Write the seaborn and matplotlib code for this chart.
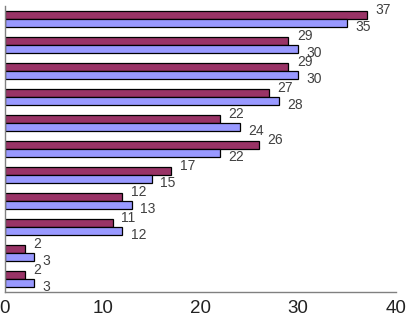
import matplotlib
matplotlib.use("Agg")
import matplotlib.pyplot as plt
import seaborn as sns
import pandas as pd

categories = ["C1", "C2", "C3", "C4", "C5", "C6", "C7", "C8", "C9", "C10", "C11"]
series_a = [37, 29, 29, 27, 22, 26, 17, 12, 11, 2, 2]
series_b = [35, 30, 30, 28, 24, 22, 15, 13, 12, 3, 3]
x_ticks = [0, 10, 20, 30, 40]

df = pd.DataFrame({
    "cat": categories * 2,
    "val": series_a + series_b,
    "series": ["A"] * len(categories) + ["B"] * len(categories),
})

sns.set_style("white")
plt.rcParams["font.family"] = ["Liberation Sans", "DejaVu Sans"]

fig = plt.figure(figsize=(4.07, 3.2), dpi=100)
ax = fig.add_axes([5 / 407, 28 / 320, 391 / 407, 286 / 320])

sns.barplot(data=df, y="cat", x="val", hue="series", orient="h",
            palette=["#993366", "#9999FF"], width=0.6, dodge=True, saturation=1,
            edgecolor="black", linewidth=0.9, legend=False, ax=ax, errorbar=None)

label_color = "#404040"
for container, dy in zip(ax.containers, [3.5, -3.0]):
    for bar in container:
        w = bar.get_width()
        yc = bar.get_y() + bar.get_height() / 2
        ax.annotate(f"{int(round(w))}", xy=(w, yc), xytext=(6, dy),
                    textcoords="offset points", ha="left", va="center",
                    fontsize=10, color=label_color, annotation_clip=False)

ax.set_xlim(0, 40)
ax.set_ylim(len(categories) - 0.5, -0.5)
ax.set_xticks(x_ticks)
ax.set_xticklabels([str(t) for t in x_ticks], fontsize=13.5, color="#222222")
ax.set_yticks([i - 0.5 for i in range(len(categories) + 1)])
ax.set_yticklabels([])
ax.set_xlabel("")
ax.set_ylabel("")

for s in ["top", "right"]:
    ax.spines[s].set_visible(False)
for s in ["left", "bottom"]:
    ax.spines[s].set_color("#808080")
    ax.spines[s].set_linewidth(1.0)

ax.tick_params(axis="x", direction="out", length=4, width=1, color="#808080", pad=2)
ax.tick_params(axis="y", direction="out", length=4, width=1, color="#808080")

fig.savefig("out.png", dpi=100)
